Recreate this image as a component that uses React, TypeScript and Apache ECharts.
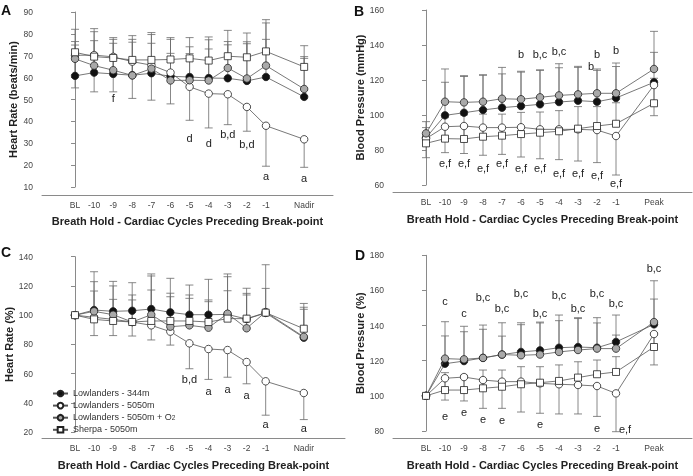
import React, { useEffect, useRef } from 'react';
import * as echarts from 'echarts';

const FONT = '"Liberation Sans", Arial, Helvetica, sans-serif';
const X_TITLE = 'Breath Hold - Cardiac Cycles Preceding Break-point';

const CATS_NADIR = ['BL', '-10', '-9', '-8', '-7', '-6', '-5', '-4', '-3', '-2', '-1', 'Nadir'];
const CATS_PEAK = ['BL', '-10', '-9', '-8', '-7', '-6', '-5', '-4', '-3', '-2', '-1', 'Peak'];

const SERIES_NAMES = ['Lowlanders - 344m', 'Lowlanders - 5050m', 'Lowlanders - 5050m + O2', 'Sherpa - 5050m'];

// Panel A: Heart rate (beats/min)
const aBlack = [60.8, 62.3, 61.7, 61.1, 62.0, 60.6, 60.3, 59.8, 59.7, 58.5, 60.3, 51.2];
const aBlackSD = [14.1, 14.6, 14.0, 15.1, 13.7, 10.5, 10.7, 13.3, 15.3, 17.0, 17.2, 17.6];
const aOpen = [70.2, 70.3, 69.5, 67.3, 65.7, 62.3, 55.8, 52.7, 52.4, 46.6, 38.0, 31.8];
const aOpenSD = [14.9, 16.8, 16.0, 16.8, 16.0, 14.3, 15.3, 15.7, 13.9, 11.1, 18.5, 12.8];
const aGray = [68.6, 65.5, 63.4, 61.0, 64.1, 58.7, 58.8, 58.7, 64.4, 59.6, 65.5, 54.8];
const aGraySD = [7.9, 15.5, 14.1, 16.5, 15.6, 18.8, 15.3, 18.6, 12.1, 16.8, 19.5, 14.8];
const aSquare = [71.6, 69.6, 69.0, 68.1, 68.1, 68.3, 68.8, 67.8, 69.8, 69.3, 72.0, 64.9];
const aSquareSD = [10.5, 12.8, 9.3, 11.1, 12.5, 10.0, 9.5, 10.8, 11.8, 11.1, 14.5, 9.7];
const aLetterCats = ['-9', '-5', '-4', '-3', '-2', '-1', 'Nadir'];
const aLetterVals = [50.8, 32.4, 30.3, 34.2, 29.7, 15.2, 14.1];
const aLetterTexts = ['f', 'd', 'd', 'b,d', 'b,d', 'a', 'a'];

// Panel B: Blood pressure (mmHg)
const bBlack = [87.0, 99.8, 101.3, 102.9, 104.2, 105.1, 106.1, 107.4, 108.2, 107.6, 109.7, 118.7];
const bBlackSD = [5.8, 18.9, 20.7, 19.8, 19.3, 19.4, 19.4, 19.6, 19.0, 17.9, 18.0, 17.1];
const bOpen = [86.5, 93.3, 93.7, 92.8, 92.8, 93.0, 91.8, 91.8, 91.8, 91.4, 88.0, 117.1];
const bOpenSD = [10.9, 14.8, 15.7, 15.8, 15.3, 17.0, 16.8, 17.3, 18.1, 18.6, 22.3, 17.5];
const bGray = [89.5, 107.6, 107.2, 107.6, 109.3, 109.0, 110.1, 111.2, 111.8, 112.4, 112.4, 126.3];
const bGraySD = [6.7, 18.7, 15.3, 15.4, 17.9, 16.0, 15.7, 18.1, 16.0, 13.9, 17.3, 21.5];
const bSquare = [83.8, 86.5, 86.3, 87.6, 88.2, 89.1, 89.9, 90.7, 92.2, 93.7, 95.0, 106.7];
const bSquareSD = [4.7, 12.0, 13.7, 12.9, 12.3, 12.4, 11.8, 11.8, 12.6, 11.1, 12.0, 14.3];
const bLetterCats = ['-6', '-5', '-4', '-2', '-2', '-1', '-10', '-9', '-8', '-7', '-6', '-5', '-4', '-3', '-2', '-1'];
const bLetterVals = [134.9, 134.9, 136.6, 134.9, 128.0, 137.1, 72.4, 72.4, 69.5, 72.4, 69.5, 69.8, 67.0, 67.0, 65.7, 61.0];
const bLetterTexts = ['b', 'b,c', 'b,c', 'b', 'b', 'b', 'e,f', 'e,f', 'e,f', 'e,f', 'e,f', 'e,f', 'e,f', 'e,f', 'e,f', 'e,f'];

// Panel C: Heart rate (%)
const cBlack = [100, 103.5, 102.6, 103.0, 104.2, 101.9, 100.3, 100.3, 100.5, 97.3, 101.5, 84.6];
const cBlackSD = [null, 26.2, 20.5, 19.2, 24.0, 23.3, 20.3, 24.2, 27.7, 21.1, 33.0, 23.4];
const cOpen = [100, 98.5, 97.1, 95.3, 93.0, 88.7, 80.7, 76.8, 76.1, 67.9, 54.7, 46.7];
const cOpenSD = [null, 12.5, 11.1, 9.6, 10.0, 9.2, 17.4, 20.8, 18.6, 14.9, 23.2, 18.2];
const cGray = [100, 102.6, 100.3, 95.3, 100.3, 92.1, 93.0, 91.4, 101.0, 91.0, 102.1, 85.2];
const cGraySD = [null, 20.3, 19.7, 18.5, 26.5, 22.9, 20.8, 19.0, 25.3, 23.9, 16.2, 20.2];
const cSquare = [100, 97.1, 96.0, 95.3, 96.0, 96.0, 96.0, 95.3, 97.6, 97.6, 101.7, 90.7];
const cSquareSD = [null, 19.4, 14.8, 15.1, 21.2, 16.6, 15.5, 13.9, 19.1, 16.2, null, 13.3];
const cLetterCats = ['-5', '-4', '-3', '-2', '-1', 'Nadir'];
const cLetterVals = [56.5, 48.1, 49.6, 45.1, 25.3, 23.0];
const cLetterTexts = ['b,d', 'a', 'a', 'a', 'a', 'a'];

// Panel D: Blood pressure (%)
const dBlack = [100, 118.3, 119.8, 121.6, 123.5, 125.0, 125.9, 127.4, 127.8, 127.4, 130.7, 140.7];
const dBlackSD = [null, 15.8, 16.7, 16.3, 10.5, 15.5, 15.6, 18.6, 16.7, 17.1, 15.3, 14.4];
const dOpen = [100, 110.0, 110.7, 109.0, 108.1, 108.1, 107.1, 106.6, 106.2, 105.6, 101.4, 135.2];
const dOpenSD = [null, 12.4, 13.6, 16.1, 15.2, 17.3, 17.0, 16.9, 16.5, 17.3, 21.8, 17.6];
const dGray = [100, 121.2, 120.8, 121.6, 123.5, 123.1, 123.5, 125.0, 126.1, 126.9, 126.9, 142.0];
const dGraySD = [null, 21.0, 18.8, 18.7, 18.1, 18.5, 18.5, 17.8, 17.9, 14.6, 7.7, 23.5];
const dSquare = [100, 103.3, 103.3, 104.3, 105.2, 106.6, 107.5, 108.5, 110.4, 112.3, 113.6, 127.8];
const dSquareSD = [null, 9.9, 8.4, 10.4, 9.5, 10.0, 9.1, 9.1, 9.0, 8.1, 8.7, 8.0];
const dLetterCats = ['-10', '-9', '-8', '-7', '-6', '-5', '-4', '-3', '-2', '-1', 'Peak', '-10', '-9', '-8', '-7', '-5', '-2', '-1'];
const dLetterVals = [154, 147, 156.3, 150.2, 158.4, 147.3, 157.4, 150.2, 158.4, 153, 172.9, 88.5, 90.8, 86.6, 86.2, 83.8, 81.9, 81.3];
const dLetterTexts = ['c', 'c', 'b,c', 'b,c', 'b,c', 'b,c', 'b,c', 'b,c', 'b,c', 'b,c', 'b,c', 'e', 'e', 'e', 'e', 'e', 'e', 'e,f'];

// marker styles and error-bar direction per group
const MARKERS = [
  { symbol: 'circle', fill: '#111111', size: 7.5 },
  { symbol: 'circle', fill: '#ffffff', size: 7.5 },
  { symbol: 'circle', fill: '#a9a9a9', size: 7.5 },
  { symbol: 'rect', fill: '#ffffff', size: 7 },
];
const ERR_DIR = [1, -1, 1, 1];

const catPos = (i: number, n: number) => (i === n - 1 ? i + 1 : i);

const PANELS = [
  {
    letter: 'A', letterXY: [1, 3],
    grid: { left: 42, top: 12, width: 291, height: 175 }, xMin: -1.73, xMax: 13.51, xOffset: 8, xNameGap: 20,
    cats: CATS_NADIR, yMin: 10, yMax: 90, yInt: 10, yName: 'Heart Rate (beats/min)', yNameGap: 24,
    values: [aBlack, aOpen, aGray, aSquare], sds: [aBlackSD, aOpenSD, aGraySD, aSquareSD],
    lCats: aLetterCats, lVals: aLetterVals, lTexts: aLetterTexts, lOffsets: {} as Record<number, number>,
  },
  {
    letter: 'B', letterXY: [354, 4],
    grid: { left: 393, top: 10, width: 299, height: 175 }, xMin: -1.737, xMax: 14.0, xOffset: 7, xNameGap: 21,
    cats: CATS_PEAK, yMin: 60, yMax: 160, yInt: 20, yName: 'Blood Pressure (mmHg)', yNameGap: 27,
    values: [bBlack, bOpen, bGray, bSquare], sds: [bBlackSD, bOpenSD, bGraySD, bSquareSD],
    lCats: bLetterCats, lVals: bLetterVals, lTexts: bLetterTexts, lOffsets: { 4: -6 } as Record<number, number>,
  },
  {
    letter: 'C', letterXY: [1, 245],
    grid: { left: 42, top: 256.7, width: 303, height: 175.3 }, xMin: -1.73, xMax: 14.16, xOffset: 6, xNameGap: 21,
    cats: CATS_NADIR, yMin: 20, yMax: 140, yInt: 20, yName: 'Heart Rate (%)', yNameGap: 24,
    values: [cBlack, cOpen, cGray, cSquare], sds: [cBlackSD, cOpenSD, cGraySD, cSquareSD],
    lCats: cLetterCats, lVals: cLetterVals, lTexts: cLetterTexts, lOffsets: {} as Record<number, number>,
  },
  {
    letter: 'D', letterXY: [355, 248],
    grid: { left: 393, top: 255.3, width: 299, height: 175.7 }, xMin: -1.737, xMax: 14.0, xOffset: 7, xNameGap: 21,
    cats: CATS_PEAK, yMin: 80, yMax: 180, yInt: 20, yName: 'Blood Pressure (%)', yNameGap: 27,
    values: [dBlack, dOpen, dGray, dSquare], sds: [dBlackSD, dOpenSD, dGraySD, dSquareSD],
    lCats: dLetterCats, lVals: dLetterVals, lTexts: dLetterTexts, lOffsets: { 17: 9 } as Record<number, number>,
  },
];

const AXIS_COLOR = '#8a8a8a';
const ERR_COLOR = '#6a6a6a';
const LETTER_COLOR = '#222222';

const errRender = (params: any, api: any) => {
  const x = api.value(0);
  const y = api.value(1);
  const e = api.value(2);
  const p0 = api.coord([x, y]);
  const p1 = api.coord([x, y + e]);
  const style = { stroke: ERR_COLOR, lineWidth: 0.8 };
  return {
    type: 'group',
    children: [
      { type: 'line', shape: { x1: p0[0], y1: p0[1], x2: p1[0], y2: p1[1] }, style },
      { type: 'line', shape: { x1: p1[0] - 4, y1: p1[1], x2: p1[0] + 4, y2: p1[1] }, style },
    ],
  };
};

function buildOption() {
  const grid: any[] = [];
  const xAxis: any[] = [];
  const yAxis: any[] = [];
  const series: any[] = [];
  const graphic: any[] = [];

  PANELS.forEach((p, i) => {
    const n = p.cats.length;
    const positions = p.cats.map((_, j) => catPos(j, n));
    grid.push({ ...p.grid, containLabel: false });
    xAxis.push({
      gridIndex: i,
      type: 'value',
      min: p.xMin,
      max: p.xMax,
      offset: p.xOffset,
      axisLine: { show: true, onZero: false, lineStyle: { color: AXIS_COLOR, width: 1 } },
      axisTick: { show: false },
      splitLine: { show: false },
      axisLabel: {
        customValues: positions,
        formatter: (v: number) => {
          const k = positions.indexOf(Math.round(v));
          return k >= 0 ? p.cats[k] : '';
        },
        fontSize: 8.5,
        color: '#444',
        margin: 5,
        fontFamily: FONT,
      },
      name: X_TITLE,
      nameLocation: 'middle',
      nameGap: p.xNameGap,
      nameTextStyle: { fontSize: 11, fontWeight: 'bold', color: '#222', fontFamily: FONT },
    });
    yAxis.push({
      gridIndex: i,
      type: 'value',
      min: p.yMin,
      max: p.yMax,
      interval: p.yInt,
      axisLine: { show: true, lineStyle: { color: AXIS_COLOR, width: 1 } },
      axisTick: { show: true, length: 4, lineStyle: { color: AXIS_COLOR } },
      axisLabel: { fontSize: 8.5, color: '#444', margin: 9, fontFamily: FONT },
      splitLine: { show: false },
      name: p.yName,
      nameLocation: 'middle',
      nameGap: p.yNameGap,
      nameTextStyle: { fontSize: 11, fontWeight: 'bold', color: '#222', fontFamily: FONT },
    });

    p.values.forEach((vals, k) => {
      const sd = p.sds[k];
      const errData: any[] = [];
      vals.forEach((v, j) => {
        if (sd[j] != null) errData.push([positions[j], v, ERR_DIR[k] * (sd[j] as number)]);
      });
      series.push({
        type: 'custom',
        xAxisIndex: i,
        yAxisIndex: i,
        data: errData,
        renderItem: errRender,
        silent: true,
        z: 2,
      });
    });

    p.values.forEach((vals, k) => {
      const m = MARKERS[k];
      series.push({
        type: 'line',
        name: SERIES_NAMES[k],
        xAxisIndex: i,
        yAxisIndex: i,
        data: vals.map((v, j) => [positions[j], v]),
        symbol: m.symbol,
        symbolSize: m.size,
        showAllSymbol: true,
        itemStyle: { color: m.fill, borderColor: '#222', borderWidth: 0.8 },
        lineStyle: { color: '#555', width: 0.8 },
        emphasis: { disabled: true },
        silent: true,
        z: 3 + k,
      });
    });

    // significance letters, drawn as text through the panel's scales
    series.push({
      type: 'custom',
      xAxisIndex: i,
      yAxisIndex: i,
      silent: true,
      z: 10,
      clip: false,
      itemStyle: { color: LETTER_COLOR },
      data: p.lCats.map((c, j) => [positions[p.cats.indexOf(c)], p.lVals[j]]),
      renderItem: (params: any, api: any) => {
        const pt = api.coord([api.value(0), api.value(1)]);
        const j = params.dataIndex;
        const off = p.lOffsets[j] || 0;
        return {
          type: 'text',
          x: pt[0] + off,
          y: pt[1],
          style: {
            text: p.lTexts[j],
            fill: LETTER_COLOR,
            fontSize: 11,
            fontFamily: FONT,
            align: 'center',
            verticalAlign: 'middle',
          },
        };
      },
    });

    graphic.push({
      type: 'text',
      left: p.letterXY[0],
      top: p.letterXY[1],
      style: { text: p.letter, fontSize: 14, fontWeight: 'bold', fill: '#111', fontFamily: FONT },
    });
  });

  return {
    animation: false,
    grid,
    xAxis,
    yAxis,
    series,
    graphic,
    legend: {
      data: SERIES_NAMES,
      orient: 'vertical',
      left: 47,
      top: 383,
      itemWidth: 15,
      itemHeight: 7,
      itemGap: 2.8,
      selectedMode: false,
      formatter: (name: string) =>
        name.endsWith('O2') ? `{t|${name.slice(0, -1)}}{s|2}` : `{t|${name}}`,
      textStyle: {
        fontSize: 9,
        color: '#333',
        fontFamily: FONT,
        rich: {
          t: { fontSize: 9, color: '#333', fontFamily: FONT, padding: [0, 0, 2, 0] },
          s: { fontSize: 6.5, color: '#333', fontFamily: FONT },
        },
      },
    },
  };
}

export default function App() {
  const ref = useRef<HTMLDivElement>(null);
  useEffect(() => {
    if (!ref.current) return;
    const chart = echarts.init(ref.current, undefined, { renderer: 'svg' });
    chart.setOption(buildOption() as any);
    return () => chart.dispose();
  }, []);
  return (
    <div
      ref={ref}
      style={{
        position: 'absolute',
        left: 0,
        top: 0,
        width: 693,
        height: 476,
        willChange: 'transform',
        WebkitFontSmoothing: 'antialiased',
      }}
    />
  );
}
